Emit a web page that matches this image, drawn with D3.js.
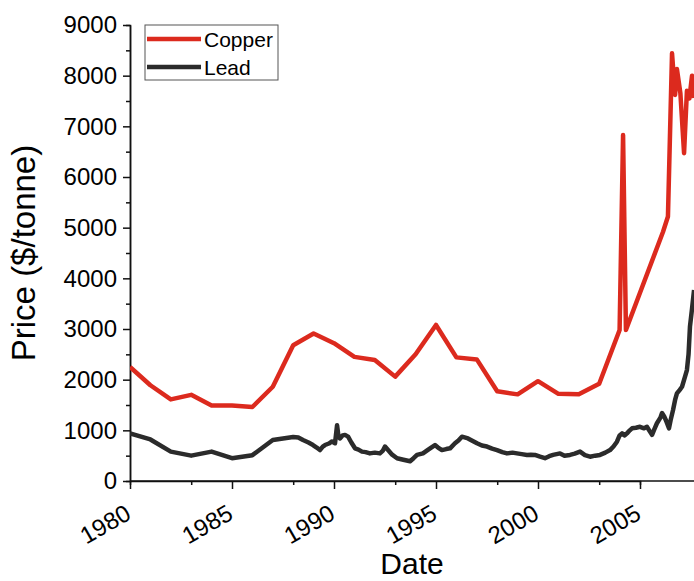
<!DOCTYPE html>
<html>
<head>
<meta charset="utf-8">
<script src="https://cdn.jsdelivr.net/npm/d3@7"></script>
<style>
  body { margin: 0; background: #fff; }
  svg { display: block; font-family: "Liberation Sans", Arial, sans-serif; }
</style>
</head>
<body>
<div class="vis"></div>
<script>
// copper: annual averages then a few later readings
const copperDates = [1980, 1981, 1982, 1983, 1984, 1985, 1986, 1987, 1988, 1989,
    1990, 1991, 1992, 1993, 1994, 1995, 1996, 1997, 1998, 1999,
    2000, 2001, 2002, 2003, 2004, 2004.17, 2004.31, 2006.13, 2006.37, 2006.57,
    2006.72, 2006.81, 2006.98, 2007.16, 2007.3, 2007.42, 2007.55, 2007.65]
const copperPrices = [2250, 1890, 1610, 1700, 1490, 1490, 1460, 1860, 2680, 2910,
    2720, 2450, 2390, 2060, 2500, 3080, 2440, 2400, 1770, 1710,
    1970, 1720, 1710, 1920, 2980, 6830, 2980, 4920, 5220, 8440,
    7620, 8130, 7650, 6470, 7700, 7550, 8000, 7560]

const leadDates = [1980, 1981, 1982, 1983, 1984, 1985, 1986, 1987, 1988, 1988.25,
    1988.48, 1988.75, 1988.97, 1989.15, 1989.31, 1989.45, 1989.56, 1989.75, 1989.9, 1990.05,
    1990.15, 1990.22, 1990.29, 1990.42, 1990.54, 1990.69, 1990.85, 1991.03, 1991.2, 1991.37,
    1991.55, 1991.76, 1992, 1992.25, 1992.4, 1992.5, 1992.65, 1992.85, 1993.09, 1993.4,
    1993.73, 1993.9, 1994.07, 1994.36, 1994.55, 1994.71, 1994.95, 1995.1, 1995.29, 1995.5,
    1995.69, 1995.93, 1996.1, 1996.27, 1996.4, 1996.57, 1996.8, 1997.01, 1997.25, 1997.5,
    1997.75, 1997.99, 1998.25, 1998.48, 1998.75, 1998.97, 1999.2, 1999.46, 1999.65, 1999.85,
    2000.1, 2000.34, 2000.55, 2000.74, 2001.08, 2001.3, 2001.57, 2001.8, 2002.06, 2002.3,
    2002.55, 2002.8, 2003.04, 2003.3, 2003.53, 2003.7, 2003.87, 2004, 2004.12, 2004.25,
    2004.36, 2004.5, 2004.61, 2004.8, 2005, 2005.2, 2005.34, 2005.45, 2005.59, 2005.7,
    2005.83, 2006, 2006.08, 2006.18, 2006.27, 2006.42, 2006.5, 2006.62, 2006.72, 2006.81,
    2006.95, 2007.06, 2007.2, 2007.3, 2007.38, 2007.45, 2007.55, 2007.65]
const leadPrices = [940, 820, 580, 500, 580, 450, 510, 810, 870, 860,
    810, 760, 710, 660, 610, 680, 710, 740, 780, 745,
    1100, 880, 840, 900, 910, 875, 760, 645, 620, 580,
    570, 545, 560, 545, 600, 680, 610, 520, 450, 420,
    390, 450, 515, 545, 600, 645, 710, 660, 610, 630,
    645, 745, 800, 875, 860, 840, 790, 745, 700, 680,
    640, 610, 570, 545, 560, 545, 530, 515, 520, 515,
    480, 450, 490, 515, 545, 500, 515, 540, 580, 510,
    480, 500, 515, 560, 610, 680, 775, 900, 940, 900,
    940, 1000, 1040, 1050, 1070, 1040, 1070, 1000, 910, 1020,
    1140, 1250, 1340, 1280, 1200, 1040, 1200, 1400, 1600, 1730,
    1800, 1860, 2050, 2190, 2500, 3050, 3400, 3770]

const yearTicks = [1980, 1985, 1990, 1995, 2000, 2005]
const yearMinor = [1983, 1988, 1993, 1998, 2003]
const priceTicks = [0, 1000, 2000, 3000, 4000, 5000, 6000, 7000, 8000, 9000]
const priceMinor = [500, 1500, 2500, 3500, 4500, 5500, 6500, 7500, 8500]

const series = [
    { name: "Copper", color: "#dc2a1e", dates: copperDates, prices: copperPrices },
    { name: "Lead", color: "#2b2b2b", dates: leadDates, prices: leadPrices }
]

const W = 694, H = 581

const svg = d3.select(".vis").append("svg")
    .attr("width", W)
    .attr("height", H)

const x = d3.scaleLinear().domain([1980, 2005]).range([130, 640])
const y = d3.scaleLinear().domain([0, 9000]).range([481, 25])

// minor ticks first, majors on top
svg.append("g")
    .attr("transform", `translate(0, ${y(0)})`)
    .call(d3.axisBottom(x).tickValues(yearMinor).tickSize(4).tickFormat(""))
svg.append("g")
    .attr("transform", `translate(${x(1980)}, 0)`)
    .call(d3.axisLeft(y).tickValues(priceMinor).tickSize(4).tickFormat(""))

const xAxis = svg.append("g")
    .attr("class", "x axis")
    .attr("transform", `translate(0, ${y(0)})`)
    .call(d3.axisBottom(x).tickValues(yearTicks).tickSize(8).tickSizeOuter(0).tickFormat(d3.format("d")))
xAxis.select(".domain").attr("d", `M${x(1980)},0H${W}`)
xAxis.selectAll("text")
    .style("font-size", "24px")
    .attr("text-anchor", "end")
    .attr("x", 0).attr("y", 0).attr("dy", 0)
    .attr("transform", "translate(2, 37) rotate(-30)")

const yAxis = svg.append("g")
    .attr("class", "y axis")
    .attr("transform", `translate(${x(1980)}, 0)`)
    .call(d3.axisLeft(y).tickValues(priceTicks).tickSize(7).tickSizeOuter(0).tickFormat(d3.format("d")))
yAxis.selectAll("text")
    .style("font-size", "24px")
    .attr("x", -13)

svg.selectAll(".domain, .tick line")
    .attr("stroke", "#111")
    .attr("stroke-width", 1.5)

svg.append("defs").append("clipPath").attr("id", "plot")
    .append("rect").attr("x", x(1980)).attr("y", 0).attr("width", W - x(1980)).attr("height", y(0))

const line = d3.line()
    .x(d => x(d[0]))
    .y(d => y(d[1]))

series.slice().reverse().forEach(s => {
    svg.append("path")
        .datum(s.dates.map((d, i) => [d, s.prices[i]]))
        .attr("clip-path", "url(#plot)")
        .attr("fill", "none")
        .attr("stroke", s.color)
        .attr("stroke-width", 4.5)
        .attr("stroke-linejoin", "round")
        .attr("d", line)
})

// axis titles
svg.append("text")
    .attr("x", (x(1980) + W) / 2)
    .attr("y", 574)
    .attr("text-anchor", "middle")
    .style("font-size", "30px")
    .text("Date")

svg.append("text")
    .attr("transform", `translate(35, ${(y(0) + y(9000)) / 2}) rotate(-90)`)
    .attr("text-anchor", "middle")
    .style("font-size", "33px")
    .text("Price ($/tonne)")

// legend
const legend = svg.append("g").attr("transform", "translate(145, 25)")
legend.append("rect")
    .attr("width", 133)
    .attr("height", 55)
    .attr("fill", "#fff")
    .attr("stroke", "#555")
    .attr("stroke-width", 1)
series.forEach((s, i) => {
    legend.append("line")
        .attr("x1", 2).attr("x2", 56)
        .attr("y1", 14 + i * 28).attr("y2", 14 + i * 28)
        .attr("stroke", s.color)
        .attr("stroke-width", 4.5)
    legend.append("text")
        .attr("x", 59)
        .attr("y", 21.5 + i * 28)
        .style("font-size", "21px")
        .text(s.name)
})
</script>
</body>
</html>
